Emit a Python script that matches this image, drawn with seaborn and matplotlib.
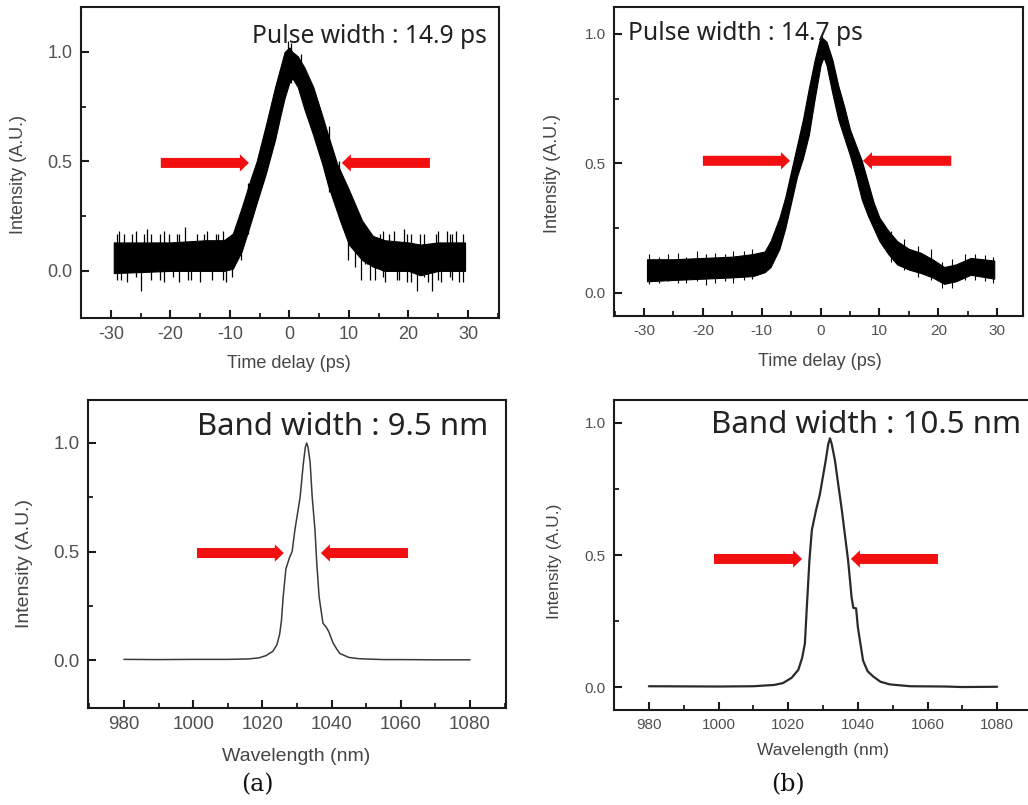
import matplotlib
matplotlib.use("Agg")
import matplotlib.pyplot as plt
from matplotlib.ticker import MultipleLocator, FormatStrFormatter
import pandas as pd
import seaborn as sns

# ---------------- autocorrelation traces (noisy band: lower / upper envelope) ----------------
ac_a_t = [-29.5, -20, -14, -11, -9.5, -8, -6.5, -5.5, -4, -2.4, -1.5, -0.8, 0, 0.5,
          1.4, 2.5, 4.0, 5.5, 6.5, 8.0, 8.5, 10, 12.2, 14, 16, 20, 22, 25, 29.5]
ac_a_upper = [0.13, 0.13, 0.14, 0.14, 0.17, 0.29, 0.42, 0.50, 0.66, 0.84, 0.93, 1.00, 1.02, 1.00,
              0.98, 0.93, 0.84, 0.71, 0.62, 0.49, 0.46, 0.37, 0.23, 0.16, 0.14, 0.13, 0.12, 0.13, 0.13]
ac_a_lower = [-0.01, 0.00, 0.00, 0.00, 0.01, 0.09, 0.22, 0.31, 0.44, 0.60, 0.71, 0.79, 0.86, 0.88,
              0.84, 0.74, 0.62, 0.49, 0.39, 0.27, 0.23, 0.12, 0.05, 0.02, 0.00, 0.00, -0.02, 0.00, 0.00]
# isolated noise spikes sticking out of trace (a)
spk_a_t = [-29.0, -28.6, -28.3, -27.7, -27.2, -26.5, -25.8, -25.0, -24.4, -24.0, -23.2, -22.5,
           -21.8, -21.0, -20.2, -19.5, -18.9, -18.5, -17.6, -17.0, -16.5, -15.6, -15.0, -14.4,
           -13.8, -13.0, -12.4, -12.0, -11.2, -10.6, -9.6, -8.2, -6.9, -1.1, -0.3, 0.3, 1.9,
           6.6, 8.4, 9.8, 11.0, 12.1, 12.7, 13.0, 13.6, 14.4, 15.2, 15.7, 16.0, 16.8, 17.5, 18.0,
           18.4, 19.3, 19.8, 20.5, 21.4, 22.0, 22.6, 23.3, 23.9, 24.6, 25.0, 25.5, 26.4, 26.9,
           27.3, 27.9, 28.5, 29.2]
spk_a_lo = [-0.04, 0.02, -0.04, 0.03, -0.05, 0.03, -0.03, -0.09, 0.03, 0.02, -0.04, 0.03,
            -0.04, -0.05, 0.02, -0.03, 0.03, -0.05, 0.03, -0.04, -0.04, 0.02, -0.05, 0.03,
            0.03, -0.04, 0.03, 0.02, -0.04, -0.05, -0.03, 0.05, 0.17, 0.78, 0.86, 0.86, 0.80,
            0.36, 0.25, 0.05, 0.02, -0.04, 0.03, 0.03, -0.04, -0.04, 0.02, -0.03, -0.05, 0.03,
            0.03, -0.04, -0.04, 0.02, -0.05, -0.05, -0.09, 0.02, -0.03, -0.05, -0.09, 0.02, -0.04,
            -0.05, 0.02, -0.03, -0.04, 0.03, -0.05, -0.05]
spk_a_hi = [0.17, 0.18, 0.10, 0.17, 0.10, 0.17, 0.18, 0.08, 0.17, 0.19, 0.17, 0.10,
            0.17, 0.18, 0.17, 0.09, 0.17, 0.17, 0.20, 0.10, 0.10, 0.17, 0.09, 0.17,
            0.18, 0.10, 0.17, 0.17, 0.18, 0.10, 0.17, 0.25, 0.40, 0.94, 1.05, 1.04, 0.99,
            0.66, 0.50, 0.20, 0.22, 0.12, 0.18, 0.18, 0.10, 0.10, 0.17, 0.18, 0.10, 0.17,
            0.18, 0.10, 0.09, 0.19, 0.17, 0.17, 0.10, 0.17, 0.17, 0.10, 0.08, 0.17, 0.18,
            0.10, 0.18, 0.17, 0.17, 0.18, 0.10, 0.17]

ac_b_t = [-29.5, -25, -20, -15, -11.5, -9.5, -8.5, -7, -6, -5, -4, -3, -2, -1, 0, 0.5,
          1, 2, 3, 4, 5, 6, 7, 8, 9, 10, 11.5, 13, 15, 17, 19, 21, 23, 25.5, 29.5]
ac_b_upper = [0.13, 0.13, 0.135, 0.14, 0.15, 0.16, 0.20, 0.29, 0.37, 0.47, 0.57, 0.67, 0.79, 0.90,
              0.99, 0.98, 0.97, 0.90, 0.80, 0.72, 0.63, 0.57, 0.51, 0.43, 0.35, 0.29, 0.24, 0.20,
              0.17, 0.155, 0.13, 0.10, 0.11, 0.135, 0.125]
ac_b_lower = [0.045, 0.05, 0.055, 0.06, 0.065, 0.08, 0.10, 0.17, 0.25, 0.35, 0.45, 0.52, 0.61, 0.75,
              0.88, 0.91, 0.88, 0.77, 0.67, 0.60, 0.53, 0.45, 0.36, 0.30, 0.25, 0.20, 0.15, 0.11,
              0.09, 0.077, 0.06, 0.035, 0.045, 0.07, 0.055]
spk_b_t = [-29.2, -27.5, -26.0, -24.3, -22.8, -21.0, -19.4, -17.9, -16.2, -14.8, -13.1, -11.6,
           0.2, 12.0, 14.2, 16.5, 18.8, 20.6, 22.3, 24.5, 26.3, 28.0, 29.3]
spk_b_lo = [0.035, 0.04, 0.045, 0.04, 0.04, 0.045, 0.03, 0.04, 0.045, 0.04, 0.05, 0.055,
            0.90, 0.12, 0.09, 0.06, 0.05, 0.02, 0.02, 0.05, 0.05, 0.045, 0.04]
spk_b_hi = [0.15, 0.14, 0.15, 0.155, 0.14, 0.16, 0.15, 0.155, 0.15, 0.16, 0.16, 0.17,
            1.005, 0.24, 0.21, 0.18, 0.17, 0.12, 0.13, 0.15, 0.15, 0.145, 0.14]

# ---------------- optical spectra ----------------
sp_a_wl = [980, 990, 1000, 1010, 1016, 1019, 1021, 1023, 1024.2, 1025, 1025.5, 1026, 1026.8,
           1027.8, 1028.6, 1029.4, 1030.2, 1030.9, 1031.8, 1032.4, 1032.8, 1033.2, 1033.8,
           1034.4, 1035.2, 1035.7, 1036.4, 1037.5, 1038.5, 1039.2, 1040.4, 1041.5, 1042.4,
           1045, 1048, 1055, 1060, 1070, 1080]
sp_a_int = [0.003, 0.002, 0.003, 0.003, 0.005, 0.01, 0.02, 0.04, 0.07, 0.12, 0.18, 0.29, 0.42,
            0.47, 0.50, 0.60, 0.68, 0.75, 0.90, 0.98, 1.00, 0.98, 0.91,
            0.75, 0.60, 0.45, 0.29, 0.17, 0.15, 0.13, 0.08, 0.05, 0.03,
            0.012, 0.006, 0.002, 0.002, 0.001, 0.001]

sp_b_wl = [980, 1000, 1010, 1016, 1018.5, 1021, 1022.9, 1024, 1024.8, 1025.3, 1026.1, 1026.8,
           1028.0, 1029.1, 1030.8, 1031.5, 1032.0, 1032.5, 1033.4, 1035.4, 1037.2, 1038.2,
           1038.7, 1039.5, 1040.0, 1041.5, 1042.8, 1044.4, 1046.5, 1049.2, 1055, 1065, 1070, 1080]
sp_b_int = [0.003, 0.002, 0.003, 0.008, 0.015, 0.035, 0.065, 0.11, 0.165, 0.29, 0.48, 0.595,
            0.67, 0.73, 0.86, 0.92, 0.942, 0.92, 0.86, 0.67, 0.48, 0.34,
            0.30, 0.298, 0.227, 0.10, 0.06, 0.04, 0.02, 0.01, 0.003, 0.002, 0.0, 0.001]

# ---------------- annotations ----------------
pulse_text = ["Pulse width : 14.9 ps", "Pulse width : 14.7 ps"]
band_text = ["Band width : 9.5 nm", "Band width : 10.5 nm"]
panel_tags = ["(a)", "(b)"]
# FWHM marker arrows: (tail, tip, level) for the left and the right arrow
arrows_ac_a = [(-21.6, -6.8, 0.493), (23.6, 8.8, 0.493)]
arrows_ac_b = [(-20.0, -5.2, 0.51), (22.2, 7.2, 0.51)]
arrows_sp_a = [(1001.1, 1026.2, 0.493), (1062.1, 1036.9, 0.493)]
arrows_sp_b = [(998.7, 1024.0, 0.485), (1063.0, 1038.0, 0.485)]

sns.set_theme(style="ticks")
plt.rcParams["font.family"] = ["Liberation Sans", "DejaVu Sans"]
plt.rcParams["axes.unicode_minus"] = False

TICK_C = "#505050"
LABEL_C = "#454545"
ANNOT_FONT = ["Noto Sans", "DejaVu Sans"]

fig = plt.figure(figsize=(10.28, 8.05), dpi=100)
fig.patch.set_facecolor("white")

ax_tl = fig.add_axes([0.0788, 0.6050, 0.4066, 0.3863])
ax_tr = fig.add_axes([0.5973, 0.6075, 0.3979, 0.3839])
ax_bl = fig.add_axes([0.0856, 0.1205, 0.4066, 0.3826])
ax_br = fig.add_axes([0.5973, 0.1180, 0.4066, 0.3851])


def style_axes(ax, xmaj, xmin, tick_size, label_size):
    ax.set_facecolor("white")
    for s in ax.spines.values():
        s.set_visible(True)
        s.set_linewidth(1.5)
        s.set_color("#1a1a1a")
    ax.xaxis.set_major_locator(MultipleLocator(xmaj))
    ax.xaxis.set_minor_locator(MultipleLocator(xmin))
    ax.yaxis.set_major_locator(MultipleLocator(0.5))
    ax.yaxis.set_minor_locator(MultipleLocator(0.25))
    ax.tick_params(which="major", direction="in", length=6, width=1.5, color="#1a1a1a",
                   labelsize=tick_size, labelcolor=TICK_C, pad=6)
    ax.tick_params(which="minor", direction="in", length=3.5, width=1.3, color="#1a1a1a")
    ax.tick_params(axis="y", which="both", left=True, right=False)
    ax.tick_params(axis="x", which="both", bottom=True, top=False)
    ax.yaxis.set_major_formatter(FormatStrFormatter("%.1f"))
    ax.xaxis.label.set_size(label_size)
    ax.yaxis.label.set_size(label_size)
    ax.xaxis.label.set_color(LABEL_C)
    ax.yaxis.label.set_color(LABEL_C)


def draw_arrows(ax, arrows):
    for tail, tip, lvl in arrows:
        ax.annotate("", xy=(tip, lvl), xytext=(tail, lvl),
                    arrowprops=dict(arrowstyle="simple,head_length=0.65,head_width=1.25,tail_width=0.72",
                                    color="#f20f0f", mutation_scale=10, shrinkA=0, shrinkB=0, lw=0))


# ---- (a) autocorrelation ----
ax_tl.fill_between(ac_a_t, ac_a_lower, ac_a_upper, color="black", lw=0.8, edgecolor="black")
ax_tl.vlines(spk_a_t, spk_a_lo, spk_a_hi, color="black", lw=0.9)
ax_tl.set_xlim(-35, 35.2)
ax_tl.set_ylim(-0.215, 1.205)
style_axes(ax_tl, 10, 5, 13, 13)
ax_tl.set_xlabel("Time delay (ps)")
ax_tl.set_ylabel("Intensity (A.U.)")
ax_tl.xaxis.set_label_coords(0.498, -0.119)
ax_tl.yaxis.set_label_coords(-0.13, 0.46)
ax_tl.text(0.971, 0.884, pulse_text[0], transform=ax_tl.transAxes, ha="right", va="baseline",
           fontsize=17.7, family=ANNOT_FONT, color="#222222")
draw_arrows(ax_tl, arrows_ac_a)

# ---- (b) autocorrelation ----
ax_tr.fill_between(ac_b_t, ac_b_lower, ac_b_upper, color="black", lw=0.8, edgecolor="black")
ax_tr.vlines(spk_b_t, spk_b_lo, spk_b_hi, color="black", lw=0.8)
ax_tr.set_xlim(-35.1, 34.4)
ax_tr.set_ylim(-0.089, 1.104)
style_axes(ax_tr, 10, 5, 11, 13)
ax_tr.set_xlabel("Time delay (ps)")
ax_tr.set_ylabel("Intensity (A.U.)")
ax_tr.xaxis.set_label_coords(0.504, -0.12)
ax_tr.yaxis.set_label_coords(-0.13, 0.46)
ax_tr.text(0.034, 0.893, pulse_text[1], transform=ax_tr.transAxes, ha="left", va="baseline",
           fontsize=17.7, family=ANNOT_FONT, color="#222222")
draw_arrows(ax_tr, arrows_ac_b)

# ---- (a) spectrum ----
df_a = pd.DataFrame({"wl": sp_a_wl, "I": sp_a_int})
sns.lineplot(data=df_a, x="wl", y="I", ax=ax_bl, color="#3a3a3a", lw=1.1)
ax_bl.set_xlim(969.6, 1090.4)
ax_bl.set_ylim(-0.221, 1.198)
style_axes(ax_bl, 20, 10, 13.5, 14)
ax_bl.set_xlabel("Wavelength (nm)")
ax_bl.set_ylabel("Intensity (A.U.)")
ax_bl.xaxis.set_label_coords(0.498, -0.13)
ax_bl.yaxis.set_label_coords(-0.132, 0.468)
ax_bl.text(0.957, 0.886, band_text[0], transform=ax_bl.transAxes, ha="right", va="baseline",
           fontsize=22.4, family=ANNOT_FONT, color="#222222")
draw_arrows(ax_bl, arrows_sp_a)

# ---- (b) spectrum ----
df_b = pd.DataFrame({"wl": sp_b_wl, "I": sp_b_int})
sns.lineplot(data=df_b, x="wl", y="I", ax=ax_br, color="#2a2a2a", lw=1.6)
ax_br.set_xlim(970, 1090)
ax_br.set_ylim(-0.087, 1.087)
style_axes(ax_br, 20, 10, 11, 12.5)
ax_br.set_xlabel("Wavelength (nm)")
ax_br.set_ylabel("Intensity (A.U.)")
ax_br.xaxis.set_label_coords(0.5, -0.106)
ax_br.yaxis.set_label_coords(-0.125, 0.48)
ax_br.text(0.232, 0.894, band_text[1], transform=ax_br.transAxes, ha="left", va="baseline",
           fontsize=22.5, family=ANNOT_FONT, color="#222222")
draw_arrows(ax_br, arrows_sp_b)

# panel tags under each column
fig.text(257 / 1028, 1 - 785 / 805, panel_tags[0], ha="center", va="center",
         fontsize=17, family=["DejaVu Serif"], color="#111111")
fig.text(788 / 1028, 1 - 785 / 805, panel_tags[1], ha="center", va="center",
         fontsize=17, family=["DejaVu Serif"], color="#111111")

fig.savefig("out.png", dpi=100, facecolor="white")
